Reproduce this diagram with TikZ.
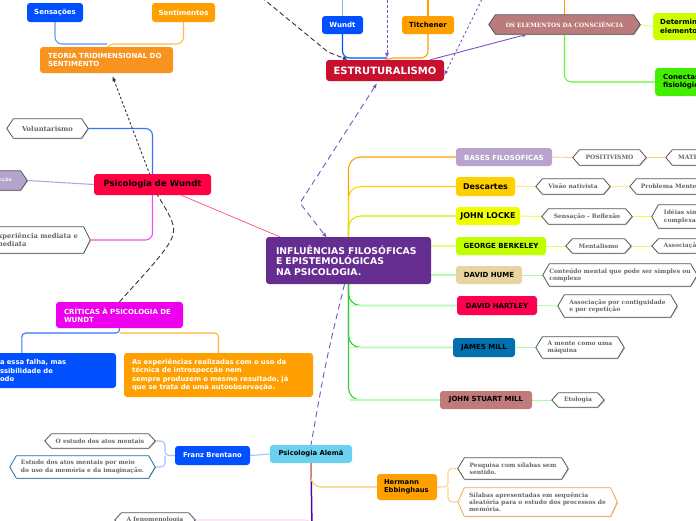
\documentclass[tikz,border=0pt]{standalone}
\usepackage{fontspec}
\newfontfamily\boxf{DejaVu Sans}
\newfontfamily\hexf{DejaVu Serif}
\usetikzlibrary{calc,arrows.meta}
\pgfdeclarelayer{bg}
\pgfsetlayers{bg,main}
\definecolor{cblue}{HTML}{0050FF}
\definecolor{corange}{HTML}{FFA000}
\definecolor{cteoria}{HTML}{F7931E}
\definecolor{cestr}{HTML}{C8102E}
\definecolor{cwred}{HTML}{FF0042}
\definecolor{ccrit}{HTML}{EE00EE}
\definecolor{cinfl}{HTML}{662D91}
\definecolor{cpsia}{HTML}{6AD2F0}
\definecolor{cbases}{HTML}{B8A3CE}
\definecolor{cdesc}{HTML}{FFD000}
\definecolor{clocke}{HTML}{EEFF00}
\definecolor{cberk}{HTML}{C0FF00}
\definecolor{chume}{HTML}{E8D4A0}
\definecolor{chart}{HTML}{FF0050}
\definecolor{cjmill}{HTML}{0070B0}
\definecolor{cjsm}{HTML}{C07A7A}
\definecolor{cdeterm}{HTML}{CCFF00}
\definecolor{cconect}{HTML}{44EE00}
\definecolor{celem}{HTML}{B97B7B}
\definecolor{cintro}{HTML}{B4A4CC}
\definecolor{hexb}{HTML}{555555}
\definecolor{hexblue}{HTML}{1C6EA4}
\definecolor{hexorange}{HTML}{F5A54A}
\definecolor{hextext}{HTML}{666666}
\definecolor{lpurple}{HTML}{8050C0}
\newcommand\hexdraw[3]{%
  \fill[black!22] ($(#1.west)+(0.8,1)$) -- ($(#1.north west)+(7.3,1)$) -- ($(#1.north east)+(-6.2,1)$) -- ($(#1.east)+(0.8,1)$) -- ($(#1.south east)+(-6.2,1)$) -- ($(#1.south west)+(7.3,1)$) -- cycle;
  \draw[line width=0.8pt, draw=#2, fill=#3] (#1.west) -- ($(#1.north west)+(6.5,0)$) -- ($(#1.north east)+(-6.5,0)$) -- (#1.east) -- ($(#1.south east)+(-6.5,0)$) -- ($(#1.south west)+(6.5,0)$) -- cycle;}
\begin{document}
\begin{tikzpicture}[x=1pt,y=-1pt,
  box/.style={rectangle, rounded corners=3pt, inner sep=0pt, align=left,
    font={\boxf\bfseries\fontsize{7}{8.3}\selectfont}},
  hexn/.style={rectangle, inner sep=0pt, align=left, text=hextext,
    font={\hexf\bfseries\fontsize{6}{7.5}\selectfont}},
  ln/.style={line width=1.1pt, rounded corners=7pt},
  thin/.style={line width=0.9pt},
  arr/.style={-{Latex[length=5pt,width=4pt]}},
  pdash/.style={lpurple, line width=0.9pt, dash pattern=on 6pt off 4pt},
  pdot/.style={lpurple, line width=0.9pt, dash pattern=on 2.5pt off 2.5pt},
  bdash/.style={black!80, line width=0.9pt, dash pattern=on 5pt off 3pt},
  bdot/.style={black!80, line width=0.9pt, dash pattern=on 2.5pt off 2pt}]
\useasboundingbox (0,0) rectangle (696,520);
\clip (0,0) rectangle (696,520);

% ---------- top left
\node[box, fill=cblue, text=white, minimum width=56, minimum height=19] (sens) at (55,12.5) {Sensações};
\node[box, fill=corange, text=white, minimum width=63, minimum height=19] (sent) at (183.5,12.5) {Sentimentos};
\node[box, fill=cteoria, text=white, minimum height=26, text width=117, inner xsep=8] (teoria) at (106.5,60) {TEORIA TRIDIMENSIONAL DO\\SENTIMENTO};

% ---------- top centre
\node[box, fill=cblue, text=white, minimum width=41, minimum height=18] (wundt) at (342.5,25) {Wundt};
\node[box, fill=corange, text=black, minimum width=52, minimum height=18] (titch) at (428,25) {Titchener};
\node[box, fill=cestr, text=white, minimum width=118, minimum height=21, font={\boxf\bfseries\fontsize{10}{12}\selectfont}] (estr) at (385,70.5) {ESTRUTURALISMO};
\node[hexn, minimum width=151, minimum height=19, text=white, font={\hexf\bfseries\fontsize{5.9}{6.5}\selectfont}] (elem) at (564.5,24.5) {OS ELEMENTOS DA CONSCIÊNCIA};
\node[box, fill=cdeterm, text=black, minimum height=27, text width=80, inner xsep=7, anchor=west] (determ) at (653,26.5) {Determinar os\\elementos};
\node[box, fill=cconect, text=black, minimum height=28, text width=80, inner xsep=8, anchor=west] (conect) at (655,82) {Conectar\\fisiológicos};

% ---------- left
\node[hexn, font={\hexf\bfseries\fontsize{6.8}{8}\selectfont}, minimum width=81, minimum height=19] (volunt) at (47.5,128.5) {Voluntarismo};
\node[hexn, text=white, font={\hexf\bfseries\fontsize{5}{6}\selectfont}, minimum width=67, minimum height=19] (intro) at (-6.5,180.5) {Introspecção};
\node[box, fill=cwred, text=black, minimum width=117, minimum height=21, font={\boxf\bfseries\fontsize{8.5}{10}\selectfont}] (psiw) at (152.5,184.5) {Psicologia de Wundt};
\node[hexn, font={\hexf\bfseries\fontsize{6.8}{8}\selectfont}, minimum width=109, minimum height=26] (exper) at (35.5,240) {Experiência mediata e\\imediata};
\node[box, fill=ccrit, text=white, minimum height=26, text width=111, inner xsep=8] (crit) at (119.5,315) {CRÍTICAS À PSICOLOGIA DE\\WUNDT};
\node[box, fill=cblue, text=white, minimum height=35, text width=111, inner xsep=5, font={\boxf\bfseries\fontsize{6.8}{8.3}\selectfont}] (bluebox) at (55.5,370.5) {a essa falha, mas\\ssibilidade de\\odo};
\node[box, fill=corange, text=white, minimum height=44, text width=173, inner xsep=8, font={\boxf\bfseries\fontsize{6.8}{8.3}\selectfont}] (orangebox) at (218.5,375) {As experiências realizadas com o uso da\\técnica de introspecção nem\\sempre produzem o mesmo resultado, já\\que se trata de uma autoobservação.};

% ---------- bottom
\node[box, fill=cpsia, text=black, minimum width=82, minimum height=18, font={\boxf\bfseries\fontsize{6.8}{8}\selectfont}] (psia) at (311,454) {Psicologia Alemã};
\node[box, fill=cblue, text=white, minimum width=75, minimum height=19, font={\boxf\bfseries\fontsize{6.8}{8}\selectfont}] (franz) at (212.5,455.5) {Franz Brentano};
\node[hexn, minimum width=110, minimum height=14] (oest) at (100,441) {O estudo dos atos mentais};
\node[hexn, minimum width=145, minimum height=22] (estu) at (82.5,467) {Estudo dos atos mentais por meio\\do uso da memória e da imaginação.};
\node[box, fill=corange, text=black, minimum height=26, text width=46, inner xsep=7, font={\boxf\bfseries\fontsize{6.8}{8.3}\selectfont}] (herm) at (407,487) {Hermann\\Ebbinghaus};
\node[hexn, minimum width=110, minimum height=21] (pesq) at (513,468.5) {Pesquisa com sílabas sem\\sentido.};
\node[hexn, minimum width=159, minimum height=28, font={\hexf\bfseries\fontsize{6}{7.3}\selectfont}] (silab) at (537.5,502) {Sílabas apresentadas em sequência\\aleatória para o estudo dos processos de\\memória.};
\node[hexn, minimum width=80, minimum height=14] (fenom) at (155,520) {A fenomenologia};

% ---------- right
\node[box, fill=cinfl, text=white, minimum height=47, text width=145, inner xsep=10, font={\boxf\bfseries\fontsize{9.3}{10.7}\selectfont}] (infl) at (348.5,260.5) {INFLUÊNCIAS FILOSÓFICAS\\E EPISTEMOLÓGICAS\\NA PSICOLOGIA.};
\node[box, fill=cbases, text=white, minimum width=96, minimum height=18] (bases) at (504,157) {BASES FILOSÓFICAS};
\node[hexn, minimum width=73, minimum height=15] (posit) at (609.5,157.5) {POSITIVISMO};
\node[hexn, minimum width=80, minimum height=15] (mater) at (706,157.5) {MATERIALISMO};
\node[box, fill=cdesc, text=black, minimum width=59, minimum height=19, font={\boxf\bfseries\fontsize{8}{9}\selectfont}] (desc) at (485.5,186.5) {Descartes};
\node[hexn, minimum width=74, minimum height=15] (visao) at (573,186.5) {Visão nativista};
\node[hexn, minimum width=100, minimum height=15] (probl) at (680,186.5) {Problema Mente-Corpo};
\node[box, fill=clocke, text=black, minimum width=64, minimum height=18, font={\boxf\bfseries\fontsize{8}{9}\selectfont}] (locke) at (488,216) {JOHN LOCKE};
\node[hexn, minimum width=90, minimum height=15] (sensref) at (587,216.5) {Sensação - Reflexão};
\node[hexn, minimum width=78, minimum height=23] (ideias) at (691,216.5) {Idéias simples e\\complexas};
\node[box, fill=cberk, text=black, minimum width=90, minimum height=18] (berk) at (501,246) {GEORGE BERKELEY};
\node[hexn, minimum width=65, minimum height=14] (mental) at (598.5,246) {Mentalismo};
\node[hexn, minimum width=60, minimum height=14] (assoc) at (682,246) {Associação};
\node[box, fill=chume, text=black, minimum width=66, minimum height=18] (hume) at (489,275) {DAVID HUME};
\node[hexn, minimum width=154, minimum height=22] (cont) at (620,275) {Conteúdo mental que pode ser simples ou\\complexo};
\node[box, fill=chart, text=black, minimum width=80, minimum height=19] (hart) at (497,305.5) {DAVID HARTLEY};
\node[hexn, minimum width=119, minimum height=22] (contig) at (617.5,306) {Associação por contiguidade\\e por repetição};
\node[box, fill=cjmill, text=black, minimum width=62, minimum height=19] (jmill) at (484,347.5) {JAMES MILL};
\node[hexn, minimum width=88, minimum height=21] (mente) at (580,347.5) {A mente como uma\\máquina};
\node[box, fill=cjsm, text=black, minimum width=92, minimum height=18] (jsm) at (486,400) {JOHN STUART MILL};
\node[hexn, minimum width=52, minimum height=14] (etol) at (578,400) {Etologia};

% ---------- free ends / junctions
\coordinate (tlfree) at (255,-8);
\coordinate (bk) at (328,52);
\coordinate (wtop) at (342.5,-5);
\coordinate (ttop) at (428,-5);
\coordinate (ptop) at (387,-5);
\coordinate (ptop2) at (484,-5);
\coordinate (etop) at (564.5,-5);
\coordinate (tj) at (107,44);
\coordinate (ej) at (387,58);
\coordinate (cj) at (120,333);
\coordinate (fj) at (165,455.5);
\coordinate (hj) at (448,487);
\coordinate (pb) at (300,203);
\coordinate (psbot) at (312,530);
\coordinate (cw1) at (150,268);
\coordinate (cw2) at (180,232);
\coordinate (cw3) at (158,196);
\coordinate (ic) at (326,360);

\begin{pgfonlayer}{bg}
% top left
\draw[ln, color=cblue!60] (sens.south) |- (tj);
\draw[ln, color=corange!70] (sent.south) |- (tj) -- (teoria.north);
% top centre
\draw[ln, color=cblue!45] (wtop) -- (wundt.north);
\draw[ln, color=corange] (ttop) -- (titch.north);
\draw[ln, color=cblue] (wundt.south) |- (ej);
\draw[ln, color=corange] (titch.south) |- (ej) -- (estr.north);
\draw[pdot, arr] (ptop) -- (ej);
\draw[pdot, arr] (ptop2) -- ([yshift=-5pt]estr.east);
\draw[thin, lpurple, arr] ([xshift=-14pt]estr.north east) -- ([xshift=-37pt]elem.south);
\draw[bdash, arr] (tlfree) -- (bk) -- ([xshift=22pt]estr.north west);
\draw[ln, color=corange] (etop) -- (elem.north);
\draw[ln, color=cconect!80] (elem.south) |- (conect.west);
\draw[thin, color=cdeterm!60] (elem.east) -- (determ.west);
% left
\draw[ln, color=cblue!80] (volunt.east) -| (psiw.north);
\draw[ln, color=cintro!80!blue!70] (intro.east) -- (psiw.west);
\draw[ln, color=ccrit!70] (psiw.south) |- (exper.east);
\draw[line width=0.7pt, color=cwred!70] ([xshift=-30pt]psiw.south east) -- ([xshift=14pt]infl.north west);
\draw[bdash] (crit.north) -- (cw1) .. controls (cw2) .. (cw3);
\draw[bdot, arr] (cw3) -- ([xshift=6pt,yshift=-3pt]teoria.south);
\draw[ln, rounded corners=4pt, color=cblue!80] (crit.south) -- (cj) -| ([xshift=27pt]bluebox.north west);
\draw[ln, rounded corners=4pt, color=corange!80] (cj) -| (orangebox.north);
% purple dashed links
\draw[pdash, {Latex[length=5pt,width=4pt]}-{Latex[length=5pt,width=4pt]}] ([xshift=-8pt,yshift=-2pt]estr.south) -- (pb) -- ([xshift=61pt,yshift=-1pt]infl.north west);
\draw[pdash] ([xshift=-4pt]infl.south) .. controls (ic) .. (psia.north);
% bottom
\draw[line width=1.5pt, color=violet!70!blue] (psia.south) -- (psbot);
\draw[ln, rounded corners=10pt, color=corange!60] (psia.south) |- (herm.west);
\draw[ln, color=magenta!15] (fenom.east) -| (psbot);
\draw[ln, color=cblue!35] (psia.west) -- (franz.east);
\draw[ln, rounded corners=4pt, color=cblue!35] (franz.west) -- (fj) |- (oest.east);
\draw[ln, rounded corners=4pt, color=cblue!35] (fj) |- (estu.east);
\draw[ln, rounded corners=4pt, color=corange!45] (herm.east) -- (hj) |- (pesq.west);
\draw[ln, rounded corners=4pt, color=corange!45] (hj) |- (silab.west);
% right trunk
\draw[ln, rounded corners=12pt, color=corange] (infl.north) |- (bases.west);
\draw[ln, rounded corners=12pt, color=cdesc] (infl.north) |- (desc.west);
\draw[ln, rounded corners=12pt, color=clocke!90!black] (infl.north) |- (locke.west);
\draw[ln, color=cberk!50] (infl.east |- berk.west) -- (berk.west);
\draw[ln, color=green!30] (infl.east |- hume.west) -- (hume.west);
\draw[ln, rounded corners=12pt, color=green!75!black!80] (infl.south) |- (hart.west);
\draw[ln, rounded corners=12pt, color=green!75!black!80] (infl.south) |- (jmill.west);
\draw[ln, rounded corners=12pt, color=green!75!black!80] (infl.south) |- (jsm.west);
\draw[ln, color=green!30] ([xshift=1pt]infl.south |- hart.west) -- (hart.west);
\draw[ln, color=green!30] ([xshift=1pt]infl.south |- jmill.west) -- (jmill.west);
\draw[ln, color=green!30] ([xshift=1pt]infl.south |- jsm.west) -- (jsm.west);
% row links
\draw[thin, color=corange!50] (bases.east) -- (posit.west);
\draw[thin, color=corange!50] (posit.east) -- (mater.west);
\draw[thin, color=cdesc!50] (desc.east) -- (visao.west);
\draw[thin, color=cdesc!50] (visao.east) -- (probl.west);
\draw[thin, color=clocke!80] (locke.east) -- (sensref.west);
\draw[thin, color=clocke!80] (sensref.east) -- (ideias.west);
\draw[thin, color=cberk!60] (berk.east) -- (mental.west);
\draw[thin, color=cberk!60] (mental.east) -- (assoc.west);
\draw[thin, color=green!35] (hume.east) -- (cont.west);
\draw[thin, color=green!35] (hart.east) -- (contig.west);
\draw[thin, color=green!35] (jmill.east) -- (mente.west);
\draw[thin, color=green!35] (jsm.east) -- (etol.west);
% hexagons
\foreach \n/\b/\f in {elem/hexb/celem, volunt/hexb/white, intro/hexb/cintro, exper/hexb/white,
  oest/hexb/white, estu/hexblue/white, pesq/hexb/white, silab/hexorange/white, fenom/hexb/white,
  posit/hexb/white, mater/hexb/white, visao/hexb/white, probl/hexb/white, sensref/hexb/white,
  ideias/hexb/white, mental/hexb/white, assoc/hexb/white, cont/hexb/white, contig/hexb/white,
  mente/hexb/white, etol/hexb/white}{\hexdraw{\n}{\b}{\f}}
\end{pgfonlayer}
\end{tikzpicture}
\end{document}
